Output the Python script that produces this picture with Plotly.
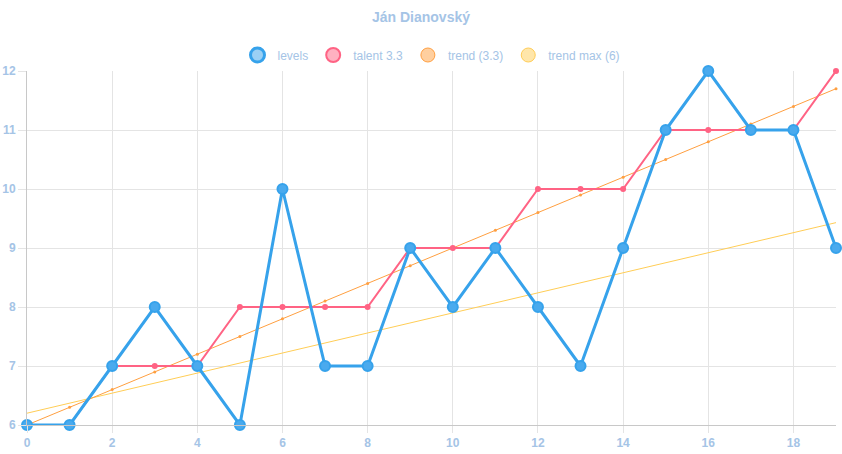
import plotly.graph_objects as go

x = list(range(20))
levels = [6, 6, 7, 8, 7, 6, 10, 7, 7, 9, 8, 9, 8, 7, 9, 11, 12, 11, 11, 9]
talent = [6, 6, 7, 7, 7, 8, 8, 8, 8, 9, 9, 9, 10, 10, 10, 11, 11, 11, 11, 12]
trend = [6.0, 6.3, 6.6, 6.9, 7.2, 7.5, 7.8, 8.1, 8.4, 8.7, 9.0, 9.3, 9.6, 9.9, 10.2, 10.5, 10.8, 11.1, 11.4, 11.7]
trend_max = [6.2, 6.37, 6.54, 6.71, 6.88, 7.05, 7.22, 7.39, 7.56, 7.73, 7.9, 8.07, 8.24, 8.41, 8.58, 8.75, 8.92, 9.09, 9.26, 9.43]
x_ticks = [0, 2, 4, 6, 8, 10, 12, 14, 16, 18]
y_ticks = [6, 7, 8, 9, 10, 11, 12]

names = ["levels", "talent 3.3", "trend (3.3)", "trend max (6)"]
colors = ["#36a2eb", "#ff6384", "#ff9f40", "#ffcd56"]
fills = ["rgba(54,162,235,0.5)", "rgba(255,99,132,0.5)", "rgba(255,159,64,0.5)", "rgba(255,205,86,0.5)"]

label_color = "#a5c4e6"
font_family = "Liberation Sans, Arial, sans-serif"

fig = go.Figure()

fig.add_trace(go.Scatter(x=x, y=trend_max, mode="lines", line=dict(color=colors[3], width=1),
                         showlegend=False, cliponaxis=False, hoverinfo="skip"))
fig.add_trace(go.Scatter(x=x, y=trend, mode="lines+markers", line=dict(color=colors[2], width=1),
                         marker=dict(size=3, color=colors[2]), showlegend=False, cliponaxis=False))
fig.add_trace(go.Scatter(x=x, y=talent, mode="lines+markers", line=dict(color=colors[1], width=2),
                         marker=dict(size=6, color=colors[1]), showlegend=False, cliponaxis=False))
fig.add_trace(go.Scatter(x=x, y=levels, mode="lines+markers", line=dict(color=colors[0], width=3),
                         marker=dict(size=10, color="#4aaaee", line=dict(color=colors[0], width=2)),
                         showlegend=False, cliponaxis=False))

border_w = [3, 2, 1, 1]
for n, c, f, bw in zip(names, colors, fills, border_w):
    fig.add_trace(go.Scatter(x=[None], y=[None], mode="markers", name=n,
                             marker=dict(size=14, color=f, line=dict(color=c, width=bw))))

fig.update_layout(
    width=842, height=454,
    margin=dict(l=27, r=6, t=71, b=29, autoexpand=False),
    paper_bgcolor="white", plot_bgcolor="white",
    font=dict(family=font_family, size=12, color=label_color),
    title=dict(text="<b>Ján Dianovský</b>", x=0.5, xanchor="center", y=1 - 17 / 454, yanchor="middle",
               font=dict(size=14, color=label_color, family=font_family)),
    legend=dict(orientation="h", x=0.5, xanchor="center", y=1 - 55 / 454, yref="container", yanchor="middle",
                font=dict(size=12, color=label_color), itemwidth=30, tracegroupgap=0,
                bgcolor="rgba(0,0,0,0)"),
    showlegend=True,
)

tick_font = dict(size=12, color=label_color, family=font_family, weight="bold")
fig.update_xaxes(range=[0, 19], tickvals=x_ticks, showgrid=True, gridcolor="#e4e4e4", gridwidth=1,
                 zeroline=False, showline=True, linecolor="#c8c8c8", linewidth=1,
                 ticks="outside", ticklen=7, tickcolor="#e4e4e4", tickfont=tick_font,
                 ticklabelstandoff=0)
fig.update_yaxes(range=[6, 12], tickvals=y_ticks, showgrid=True, gridcolor="#e4e4e4", gridwidth=1,
                 zeroline=False, showline=True, linecolor="#c8c8c8", linewidth=1,
                 ticks="outside", ticklen=8, tickcolor="#e4e4e4", tickfont=tick_font,
                 ticklabelstandoff=0)

fig.write_html("out.html")
